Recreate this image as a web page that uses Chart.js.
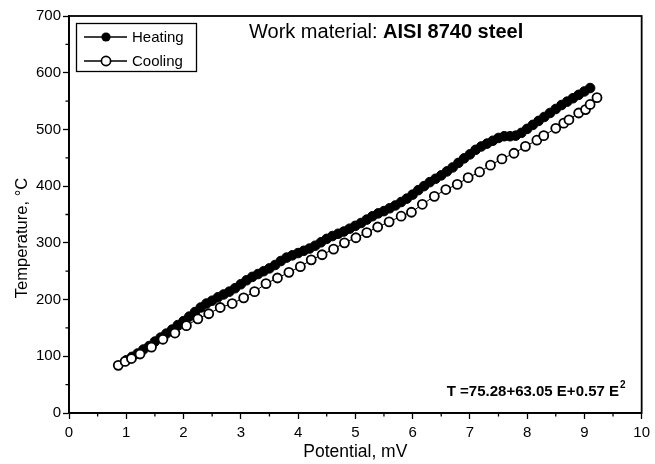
<!DOCTYPE html>
<html><head><meta charset="utf-8">
<script src="https://cdn.jsdelivr.net/npm/chart.js@4/dist/chart.umd.min.js"></script>
<style>html,body{margin:0;padding:0;background:#fff}#wrap{width:655px;height:464px}</style>
</head><body><div id="wrap"><canvas id="c" width="655" height="464"></canvas></div>
<script>
// ---- data ----
const heatingX = [1.0,1.1,1.2,1.3,1.4,1.5,1.6,1.7,1.8,1.9,2.0,2.1,2.2,2.3,2.4,2.5,2.6,2.7,2.8,2.9,3.0,3.1,3.2,3.3,3.4,3.5,3.6,3.7,3.8,3.9,4.0,4.1,4.2,4.3,4.4,4.5,4.6,4.7,4.8,4.9,5.0,5.1,5.2,5.3,5.4,5.5,5.6,5.7,5.8,5.9,6.0,6.1,6.2,6.3,6.4,6.5,6.6,6.7,6.8,6.9,7.0,7.1,7.2,7.3,7.4,7.5,7.6,7.7,7.8,7.9,8.0,8.1,8.2,8.3,8.4,8.5,8.6,8.7,8.8,8.9,9.0,9.1];
const heatingT = [93,99,105,112,118,126,133,140,147,155,162,170,178,186,193,198,204,209,214,220,227,234,240,245,250,255,261,268,274,278,282,286,290,295,301,307,312,316,320,325,330,335,341,347,352,356,361,366,372,378,385,393,400,407,413,419,426,433,441,449,456,464,470,475,480,485,488,488,489,494,501,508,515,522,529,536,543,549,555,561,567,573];
const coolingX = [0.86,0.98,1.09,1.24,1.44,1.64,1.85,2.05,2.25,2.44,2.64,2.85,3.05,3.24,3.44,3.64,3.84,4.04,4.23,4.42,4.62,4.81,5.01,5.20,5.39,5.59,5.80,5.98,6.17,6.38,6.58,6.78,6.97,7.17,7.36,7.56,7.77,7.97,8.17,8.29,8.50,8.64,8.73,8.90,9.02,9.10,9.22];
const coolingT = [84,91,96,104,116,130,141,154,166,175,186,193,203,214,228,238,248,258,270,279,289,300,309,318,328,337,347,354,368,382,394,403,415,425,437,448,458,470,481,489,502,511,517,529,535,544,556];
const seriesNames = ['Heating','Cooling'];
const xTickValues = [0,1,2,3,4,5,6,7,8,9,10];
const yTickValues = [0,100,200,300,400,500,600,700];
const xTitle = 'Potential, mV';
const yTitle = 'Temperature, °C';
const noteNormal = 'Work material: ';
const noteBold = 'AISI 8740 steel';
const formulaText = 'T =75.28+63.05 E+0.57 E';
const formulaSup = '2';

const FONT = '"Liberation Sans", Arial, Helvetica, sans-serif';

const toPts = (xs, ys) => xs.map((x, i) => ({x: x, y: ys[i]}));

const decor = {
  id: 'decor',
  afterDraw(chart) {
    const ctx = chart.ctx, a = chart.chartArea;
    const xs = chart.scales.x, ys = chart.scales.y;
    ctx.save();
    ctx.strokeStyle = '#000';
    ctx.fillStyle = '#000';
    // frame
    ctx.lineWidth = 1.8;
    ctx.strokeRect(a.left, a.top, a.right - a.left, a.bottom - a.top);
    // minor ticks
    ctx.lineWidth = 1.3;
    ctx.beginPath();
    for (let i = 0; i < xTickValues.length - 1; i++) {
      const v = (xTickValues[i] + xTickValues[i + 1]) / 2;
      const p = xs.getPixelForValue(v);
      ctx.moveTo(p, a.bottom); ctx.lineTo(p, a.bottom + 3.5);
    }
    for (let i = 0; i < yTickValues.length - 1; i++) {
      const v = (yTickValues[i] + yTickValues[i + 1]) / 2;
      const p = ys.getPixelForValue(v);
      ctx.moveTo(a.left, p); ctx.lineTo(a.left - 3.5, p);
    }
    ctx.stroke();

    // legend box
    ctx.lineWidth = 1.3;
    ctx.strokeRect(76.5, 23.5, 120, 48);
    const rows = [37, 61];
    ctx.font = '15px ' + FONT;
    ctx.textBaseline = 'middle';
    rows.forEach((ry, i) => {
      ctx.lineWidth = 1.3;
      ctx.beginPath(); ctx.moveTo(84, ry); ctx.lineTo(127, ry); ctx.stroke();
      ctx.beginPath(); ctx.arc(106, ry, 4.6, 0, Math.PI * 2);
      if (i === 0) { ctx.fillStyle = '#000'; ctx.fill(); }
      else { ctx.fillStyle = '#fff'; ctx.fill(); ctx.lineWidth = 1.7; ctx.stroke(); }
      ctx.fillStyle = '#000';
      ctx.fillText(seriesNames[i], 132, ry + 1);
    });

    // header note
    ctx.textBaseline = 'alphabetic';
    ctx.font = '20px ' + FONT;
    const w1 = ctx.measureText(noteNormal).width;
    ctx.fillText(noteNormal, 249, 38);
    ctx.font = 'bold 20px ' + FONT;
    ctx.fillText(noteBold, 249 + w1, 38);

    // formula
    ctx.font = 'bold 15px ' + FONT;
    const fw = ctx.measureText(formulaText).width;
    const fx = 619 - fw;
    ctx.fillText(formulaText, fx, 396);
    ctx.font = 'bold 10px ' + FONT;
    ctx.fillText(formulaSup, fx + fw + 1, 388);

    // y title
    ctx.font = '16.5px ' + FONT;
    ctx.textAlign = 'center';
    ctx.textBaseline = 'middle';
    ctx.translate(22, 238);
    ctx.rotate(-Math.PI / 2);
    ctx.fillText(yTitle, 0, 0);
    ctx.restore();
  }
};

new Chart(document.getElementById('c'), {
  type: 'scatter',
  data: {
    datasets: [
      {
        label: seriesNames[0],
        data: toPts(heatingX, heatingT),
        showLine: true,
        borderColor: '#000',
        borderWidth: 1,
        backgroundColor: '#000',
        pointBackgroundColor: '#000',
        pointBorderColor: '#000',
        pointRadius: 4.8,
        pointBorderWidth: 1,
        order: 2
      },
      {
        label: seriesNames[1],
        data: toPts(coolingX, coolingT),
        showLine: true,
        borderColor: '#000',
        borderWidth: 1,
        backgroundColor: '#fff',
        pointBackgroundColor: '#fff',
        pointBorderColor: '#000',
        pointRadius: 4.5,
        pointBorderWidth: 1.8,
        order: 1
      }
    ]
  },
  options: {
    responsive: false,
    devicePixelRatio: 1,
    animation: false,
    layout: { padding: { left: 0, right: 12, top: 16, bottom: 0 } },
    plugins: { legend: { display: false }, tooltip: { enabled: false } },
    scales: {
      x: {
        type: 'linear', min: 0, max: 10,
        afterFit: s => { s.height = 51; },
        afterBuildTicks: s => { s.ticks = xTickValues.map(v => ({value: v})); },
        ticks: { color: '#000', font: { family: FONT, size: 15 }, padding: 5, maxRotation: 0 },
        grid: { drawOnChartArea: false, tickLength: 6, tickColor: '#000', tickWidth: 1.3 },
        border: { display: true, color: '#000', width: 1.8 },
        title: { display: true, text: xTitle, color: '#000', font: { family: FONT, size: 17.5 }, padding: { top: 0, bottom: 1 } }
      },
      y: {
        type: 'linear', min: 0, max: 700,
        afterFit: s => { s.width = 69; },
        afterBuildTicks: s => { s.ticks = yTickValues.map(v => ({value: v})); },
        ticks: { color: '#000', font: { family: FONT, size: 15 }, padding: 2 },
        grid: { drawOnChartArea: false, tickLength: 6, tickColor: '#000', tickWidth: 1.3 },
        border: { display: true, color: '#000', width: 1.8 }
      }
    }
  },
  plugins: [decor]
});
</script>
</body></html>
